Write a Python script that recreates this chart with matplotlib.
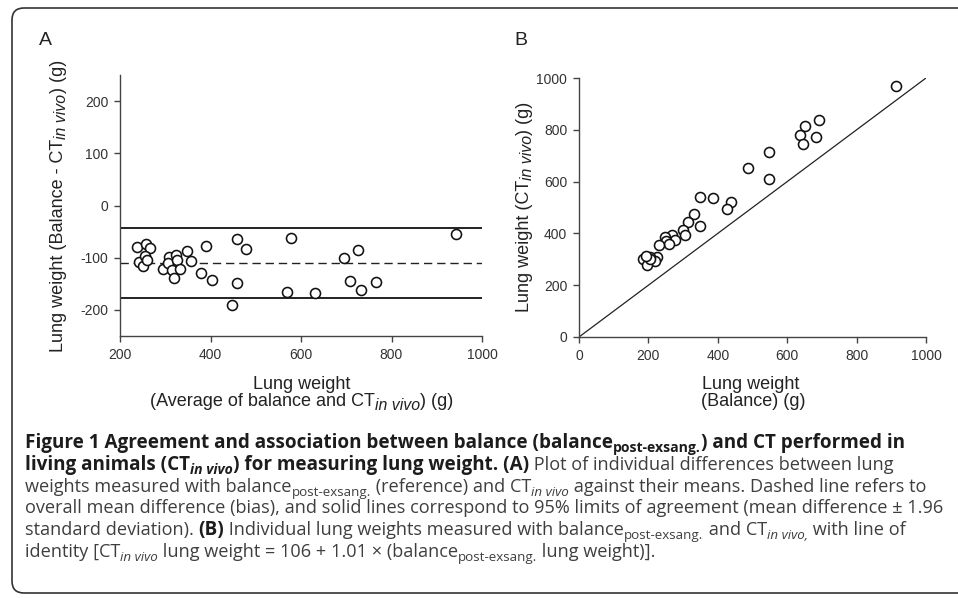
import matplotlib
matplotlib.use('Agg')
import matplotlib.pyplot as plt
from matplotlib.patches import FancyBboxPatch
from matplotlib.transforms import IdentityTransform

# valores
# Painel A: Bland-Altman (media x diferenca)
media_a = [237, 257, 267, 243, 250, 256, 259, 294, 309, 307, 314, 319, 324, 325, 332,
           349, 356, 380, 390, 403, 459, 479, 459, 447, 578, 569, 630, 695, 726, 709,
           733, 765, 942]
dif_a = [-79, -73, -82, -108, -116, -97, -105, -122, -98, -111, -124, -138, -95, -104, -122,
         -87, -107, -130, -77, -142, -65, -84, -149, -190, -62, -165, -168, -100, -86, -144,
         -162, -146, -54]
vies = -111
limites = [-44, -178]

# Painel B: balanca x CT in vivo
balanca = [914, 692, 652, 637, 645, 683, 547, 547, 486, 350, 385, 437, 426, 332, 350, 315,
           300, 305, 269, 276, 248, 252, 260, 230, 225, 218, 204, 190, 185, 197, 206, 192]
ct_vivo = [970, 839, 815, 781, 745, 771, 716, 610, 652, 542, 535, 523, 493, 476, 430, 445,
           412, 394, 395, 373, 386, 371, 359, 355, 309, 293, 309, 306, 300, 277, 301, 311]

ticks_a_x = [200, 400, 600, 800, 1000]
ticks_a_y = [-200, -100, 0, 100, 200]
ticks_b = [0, 200, 400, 600, 800, 1000]

W, H = 958, 598
plt.rcParams['font.family'] = ['Liberation Sans', 'DejaVu Sans']
plt.rcParams['axes.unicode_minus'] = False

fig = plt.figure(figsize=(W / 100, H / 100), dpi=100)
fig.patch.set_facecolor('white')
renderer = fig.canvas.get_renderer()


def ax_pix(esq, topo, dir_, base):
    return fig.add_axes([esq / W, 1 - base / H, (dir_ - esq) / W, (base - topo) / H])


def estilo(ax):
    for lado in ['top', 'right']:
        ax.spines[lado].set_visible(False)
    for lado in ['left', 'bottom']:
        ax.spines[lado].set_color('#444444')
        ax.spines[lado].set_linewidth(1.0)
    ax.tick_params(direction='out', length=4, width=1.0, color='#444444',
                   labelsize=10, labelcolor='#333333', pad=4.5)


# ---------- texto em trechos (subscritos, italico, negrito) ----------
def largura(txt, p):
    t1 = fig.text(0, 0, '|' + txt + '|', **p)
    t2 = fig.text(0, 0, '||', **p)
    w = t1.get_window_extent(renderer).width - t2.get_window_extent(renderer).width
    t1.remove()
    t2.remove()
    return w


def largura_total(trechos, props):
    return sum(largura(txt, props(tipo)[0]) for txt, tipo in trechos)


def trechos_pix(x0, base, trechos, props, rot=0):
    # x0/base em pixels com origem no topo-esquerda
    pos = 0
    for txt, tipo in trechos:
        p, dsub = props(tipo)
        if rot == 0:
            fig.text((x0 + pos) / W, 1 - (base + dsub) / H, txt, va='baseline', ha='left', **p)
        else:
            fig.text((x0 + dsub) / W, 1 - (base - pos) / H, txt, va='baseline', ha='left',
                     rotation=90, rotation_mode='anchor', **p)
        pos += largura(txt, p)


# rotulos dos eixos (Liberation Sans)
tam_eixo = 13.0


def props_eixo(tipo):
    p = dict(fontsize=tam_eixo, color='#222222', family=['Liberation Sans', 'DejaVu Sans'])
    d = 0
    if 's' in tipo:
        p['fontsize'] = tam_eixo * 0.88
        p['fontstyle'] = 'italic'
        d = 3.5
    return p, d


circ = dict(marker='o', ms=7.2, mfc='white', mec='#111111', mew=1.15, ls='none', zorder=5)

# ---------------- Painel A ----------------
axA = ax_pix(120, 75, 482, 336)
estilo(axA)
axA.set_xlim(200, 1000)
axA.set_ylim(-250, 250)
axA.set_xticks(ticks_a_x)
axA.set_yticks(ticks_a_y)
for lim in limites:
    axA.axhline(lim, color='#222222', lw=1.4)
axA.axhline(vies, color='#222222', lw=1.0, dashes=(6, 3.5))
axA.plot(media_a, dif_a, **circ)

rot_ya = [('Lung weight (Balance - CT', ''), ('in vivo', 's'), (') (g)', '')]
w = largura_total(rot_ya, props_eixo)
trechos_pix(63, 206 + w / 2, rot_ya, props_eixo, rot=90)
rot_xa1 = [('Lung weight', '')]
w = largura_total(rot_xa1, props_eixo)
trechos_pix(302 - w / 2, 389, rot_xa1, props_eixo)
rot_xa2 = [('(Average of balance and CT', ''), ('in vivo', 's'), (') (g)', '')]
w = largura_total(rot_xa2, props_eixo)
trechos_pix(302 - w / 2, 406, rot_xa2, props_eixo)

# ---------------- Painel B ----------------
axB = ax_pix(579, 78, 926, 337)
estilo(axB)
axB.set_xlim(0, 1000)
axB.set_ylim(0, 1000)
axB.set_xticks(ticks_b)
axB.set_yticks(ticks_b)
axB.plot([0, 1000], [0, 1000], color='#222222', lw=0.9)
axB.plot(balanca, ct_vivo, **circ)

rot_yb = [('Lung weight (CT', ''), ('in vivo', 's'), (') (g)', '')]
w = largura_total(rot_yb, props_eixo)
trechos_pix(529, 207 + w / 2, rot_yb, props_eixo, rot=90)
rot_xb1 = [('Lung weight', '')]
w = largura_total(rot_xb1, props_eixo)
trechos_pix(751 - w / 2, 389, rot_xb1, props_eixo)
rot_xb2 = [('(Balance) (g)', '')]
w = largura_total(rot_xb2, props_eixo)
trechos_pix(753 - w / 2, 406, rot_xb2, props_eixo)

# letras dos paineis
fig.text(39 / W, 1 - 45 / H, 'A', fontsize=14, color='#222222', va='baseline')
fig.text(514 / W, 1 - 45 / H, 'B', fontsize=14, color='#222222', va='baseline')

# moldura arredondada (sai pela direita)
moldura = FancyBboxPatch((12, 5), 980, 585, boxstyle='round,pad=0,rounding_size=12',
                         transform=IdentityTransform(), fill=False,
                         edgecolor='#333333', linewidth=1.2)
fig.add_artist(moldura)

# ---------------- Legenda (texto corrido) ----------------
fam = ['Open Sans', 'DejaVu Sans']
tam_b = 12.0
tam_r = 12.0


def props_leg(tipo):
    t = tam_b if 'b' in tipo else tam_r
    p = dict(fontsize=t, fontweight='normal', fontstyle='normal', color='#3e3e3e', family=fam)
    d = 0
    if 'b' in tipo:
        p['fontweight'] = 'bold'
        p['color'] = '#1c1c1c'
    if 'i' in tipo:
        p['fontstyle'] = 'italic'
    if 's' in tipo:
        p['fontsize'] = t * 0.74
        d = 4
    return p, d


sub = 'post-exsang.'
linhas = [
    [('Figure 1 Agreement and association between balance (balance', 'b'), (sub, 'bs'),
     (') and CT performed in', 'b')],
    [('living animals (CT', 'b'), ('in vivo', 'bis'), (') for measuring lung weight. (A)', 'b'),
     (' Plot of individual differences between lung', '')],
    [('weights measured with balance', ''), (sub, 's'), (' (reference) and CT', ''),
     ('in vivo', 'is'), (' against their means. Dashed line refers to', '')],
    [('overall mean difference (bias), and solid lines correspond to 95% limits of agreement '
      '(mean difference \u00b1 1.96', '')],
    [('standard deviation). ', ''), ('(B)', 'b'), (' Individual lung weights measured with balance', ''),
     (sub, 's'), (' and CT', ''), ('in vivo,', 'is'), (' with line of', '')],
    [('identity [CT', ''), ('in vivo', 'is'), (' lung weight = 106 + 1.01 \u00d7 (balance', ''),
     (sub, 's'), (' lung weight)].', '')],
]
# corpo ajustado para as larguras da original: linha 1 (negrito) 25->903, linha 4 (normal) 25->940
tam_b = tam_b * 878 / largura_total(linhas[0], props_leg)
tam_r = tam_r * 915 / largura_total(linhas[3], props_leg)

bases = [448, 470, 492, 513, 535, 557]
for b, trechos in zip(bases, linhas):
    trechos_pix(25, b, trechos, props_leg)

fig.savefig('out.png', dpi=100)
